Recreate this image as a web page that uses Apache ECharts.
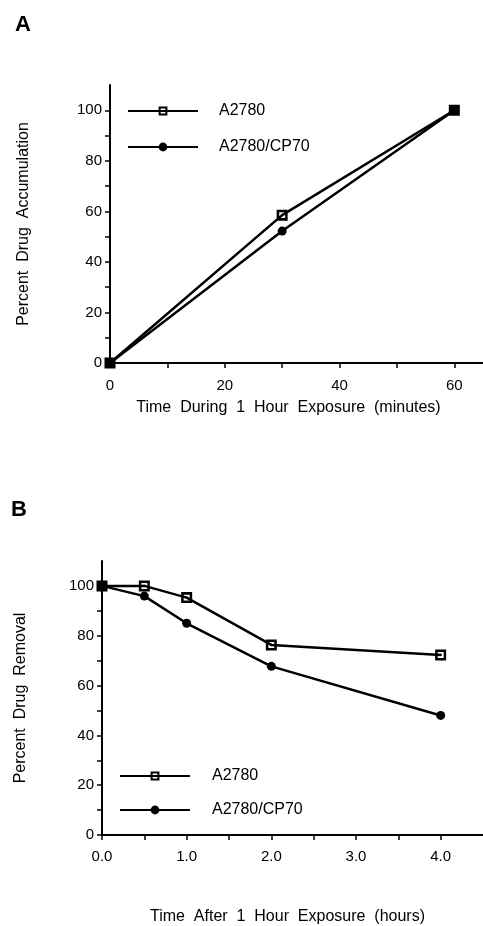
<!DOCTYPE html>
<html>
<head>
<meta charset="utf-8">
<script src="https://cdn.jsdelivr.net/npm/echarts@6/dist/echarts.min.js"></script>
<style>
html,body{margin:0;padding:0;background:#fff;}
#c{width:483px;height:926px;}
</style>
</head>
<body>
<div id="c"></div>
<script>
// Panel A: accumulation during 1 h exposure (minutes)
var timeA = [0, 30, 60];
var accA2780 = [0, 58.5, 100];
var accCP70 = [0, 52.2, 100];
var ticksA = [0, 20, 40, 60];

// Panel B: removal after 1 h exposure (hours)
var timeB = [0, 0.5, 1, 2, 4];
var remA2780 = [100, 100, 95.3, 76.3, 72.3];
var remCP70 = [100, 95.9, 85.0, 67.7, 48.0];
var ticksB = [0, 1, 2, 3, 4];

var yTicks = [0, 20, 40, 60, 80, 100];
var seriesNames = ['A2780', 'A2780/CP70'];

function pairs(xs, ys) { return xs.map(function (x, i) { return [x, ys[i]]; }); }

var FONT = '"Liberation Sans", Arial, Helvetica, sans-serif';
var squareSym = 'path://M0,0 L10,0 L10,10 L0,10 Z M2.3,2.3 L2.3,7.7 L7.7,7.7 L7.7,2.3 Z M4,4 L6,4 L6,6 L4,6 Z';

function axisCommon() {
  return {
    axisLine: { show: true, onZero: false, lineStyle: { color: '#000', width: 2 } },
    axisTick: { show: true, length: 5, lineStyle: { color: '#000', width: 1.5 } },
    splitLine: { show: false },
    nameTextStyle: { color: '#000', fontFamily: FONT, fontSize: 16 }
  };
}

function yAxis(gridIndex, name, gap) {
  return Object.assign(axisCommon(), {
    type: 'value', gridIndex: gridIndex, min: 0, max: 110, interval: 10,
    name: name, nameLocation: 'middle', nameGap: gap,
    axisLabel: {
      color: '#000', fontFamily: FONT, fontSize: 15, margin: 8,
      showMaxLabel: false,
      formatter: function (v) { return yTicks.indexOf(v) >= 0 ? String(v) : ''; }
    }
  });
}

var lineStyle = { color: '#000', width: 2.5 };

function sq(name, data, xi) {
  return {
    name: name, type: 'line', xAxisIndex: xi, yAxisIndex: xi, data: data,
    symbol: squareSym, symbolSize: 11, showSymbol: true,
    itemStyle: { color: '#000' }, lineStyle: lineStyle, color: '#000',
    animation: false, silent: true, z: 2
  };
}
function ci(name, data, xi) {
  return {
    name: name, type: 'line', xAxisIndex: xi, yAxisIndex: xi, data: data,
    symbol: 'circle', symbolSize: 9, showSymbol: true,
    itemStyle: { color: '#000' }, lineStyle: lineStyle, color: '#000',
    animation: false, silent: true, z: 3
  };
}

var chart = echarts.init(document.getElementById('c'), null, { renderer: 'canvas' });
chart.setOption({
  backgroundColor: '#fff',
  animation: false,
  textStyle: { fontFamily: FONT, color: '#000' },
  grid: [
    { left: 110, top: 85, width: 373, height: 278 },
    { left: 102, top: 561, width: 381, height: 280 }
  ],
  xAxis: [
    Object.assign(axisCommon(), {
      type: 'value', gridIndex: 0, min: 0, max: 65, interval: 10,
      name: 'Time  During  1  Hour  Exposure  (minutes)', nameLocation: 'middle', nameGap: 37,
      nameTextStyle: { color: '#000', fontFamily: FONT, fontSize: 16, padding: [0, 16, 0, 0] },
      axisLabel: {
        color: '#000', fontFamily: FONT, fontSize: 15, margin: 15, showMaxLabel: false,
        formatter: function (v) { return ticksA.indexOf(v) >= 0 ? String(v) : ''; }
      }
    }),
    Object.assign(axisCommon(), {
      type: 'value', gridIndex: 1, min: 0, max: 4.5, interval: 0.5,
      name: 'Time  After  1  Hour  Exposure  (hours)', nameLocation: 'middle', nameGap: 74,
      nameTextStyle: { color: '#000', fontFamily: FONT, fontSize: 16, padding: [0, 10, 0, 0] },
      axisLabel: {
        color: '#000', fontFamily: FONT, fontSize: 15, margin: 14, showMaxLabel: false,
        formatter: function (v) { return ticksB.indexOf(v) >= 0 ? v.toFixed(1) : ''; }
      }
    })
  ],
  yAxis: [
    yAxis(0, 'Percent  Drug  Accumulation', 78),
    yAxis(1, 'Percent  Drug  Removal', 73)
  ],
  legend: [
    {
      data: seriesNames, orient: 'vertical', left: 127, top: 103, padding: 0,
      itemWidth: 70, itemHeight: 11, itemGap: 20, selectedMode: false,
      textStyle: { color: '#000', fontFamily: FONT, fontSize: 16, padding: [0, 0, 0, 16] }
    },
    {
      data: seriesNames, orient: 'vertical', left: 119, top: 768, padding: 0,
      itemWidth: 70, itemHeight: 11, itemGap: 18, selectedMode: false,
      textStyle: { color: '#000', fontFamily: FONT, fontSize: 16, padding: [0, 0, 0, 17] }
    }
  ],
  graphic: [
    { type: 'text', left: 15, top: 14, style: { text: 'A', font: 'bold 22px ' + FONT, fill: '#000' } },
    { type: 'text', left: 11, top: 499, style: { text: 'B', font: 'bold 22px ' + FONT, fill: '#000' } }
  ],
  series: [
    sq(seriesNames[0], pairs(timeA, accA2780), 0),
    ci(seriesNames[1], pairs(timeA, accCP70), 0),
    sq(seriesNames[0], pairs(timeB, remA2780), 1),
    ci(seriesNames[1], pairs(timeB, remCP70), 1)
  ]
});
</script>
</body>
</html>
